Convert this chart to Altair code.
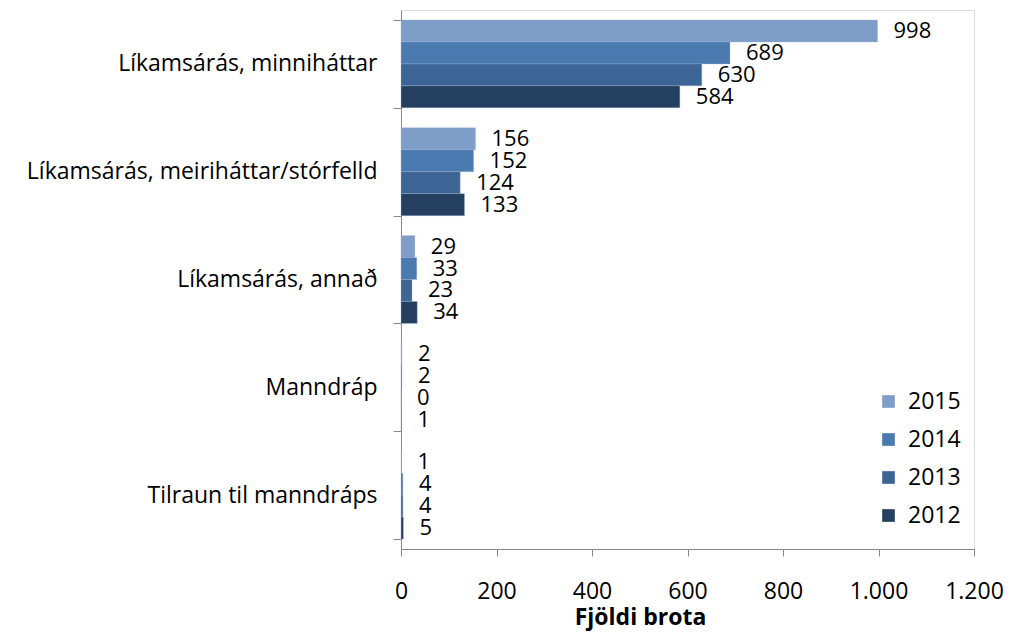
import altair as alt
import pandas as pd

categories = ["Líkamsárás, minniháttar", "Líkamsárás, meiriháttar/stórfelld",
              "Líkamsárás, annað", "Manndráp", "Tilraun til manndráps"]
years = ["2015", "2014", "2013", "2012"]
v2015 = [998, 156, 29, 2, 1]
v2014 = [689, 152, 33, 2, 4]
v2013 = [630, 124, 23, 0, 4]
v2012 = [584, 133, 34, 1, 5]
colors = ["#7F9DC9", "#4A7AB0", "#3C6494", "#243F5F"]

rows = []
for y, vals in zip(years, [v2015, v2014, v2013, v2012]):
    for c, v in zip(categories, vals):
        rows.append({"cat": c, "year": y, "value": v})
df = pd.DataFrame(rows)

FONT = "Open Sans"
FS = 23

yenc = alt.Y("cat:N", sort=categories, title=None,
             scale=alt.Scale(paddingInner=0.185, paddingOuter=0.0925),
             axis=alt.Axis(tickBand="extent", labelFontSize=FS, labelFont=FONT,
                           labelColor="black", labelPadding=16, tickSize=8,
                           domainColor="#888888", tickColor="#888888",
                           labelLimit=420))
yoff = alt.YOffset("year:N", sort=years, scale=alt.Scale(paddingInner=0, paddingOuter=0))

base = alt.Chart(df)

bars = base.mark_bar(stroke="#9DB5D8", strokeWidth=0.6, strokeOpacity=0.6).encode(
    x=alt.X("value:Q", title="Fjöldi brota",
            scale=alt.Scale(domain=[0, 1200], nice=False),
            axis=alt.Axis(values=[0, 200, 400, 600, 800, 1000, 1200], grid=False,
                          labelExpr="replace(format(datum.value, ','), ',', '.')",
                          labelFontSize=FS, labelFont=FONT, labelColor="black",
                          labelPadding=24, tickSize=7, domainColor="#888888",
                          tickColor="#888888", titleFont=FONT, titleFontSize=FS,
                          titleFontWeight="bold", titleColor="black",
                          titleX=239, titleY=75, titleAlign="center",
                          titleBaseline="alphabetic", labelFlush=False)),
    y=yenc,
    yOffset=yoff,
    color=alt.Color("year:N", sort=years, title=None,
                    scale=alt.Scale(domain=years, range=colors),
                    legend=alt.Legend(orient="none", legendX=476, legendY=380,
                                      symbolType="square", symbolSize=160,
                                      symbolStrokeWidth=0, labelFont=FONT,
                                      labelFontSize=FS, labelColor="black",
                                      rowPadding=14, labelOffset=8)),
)

labels = base.mark_text(align="left", baseline="middle", dx=16, fontSize=22,
                        font=FONT, color="black").encode(
    x="value:Q", y=alt.Y("cat:N", sort=categories), yOffset=yoff,
    text="value:Q")

chart = (bars + labels).properties(
    width=573, height=539,
    autosize=alt.AutoSizeParams(type="none"),
    padding={"left": 393, "top": 2, "right": 40, "bottom": 82},
).configure_view(stroke=None).configure(background="white")

chart.save("out.html", embed_options={"renderer": "svg", "actions": False})
